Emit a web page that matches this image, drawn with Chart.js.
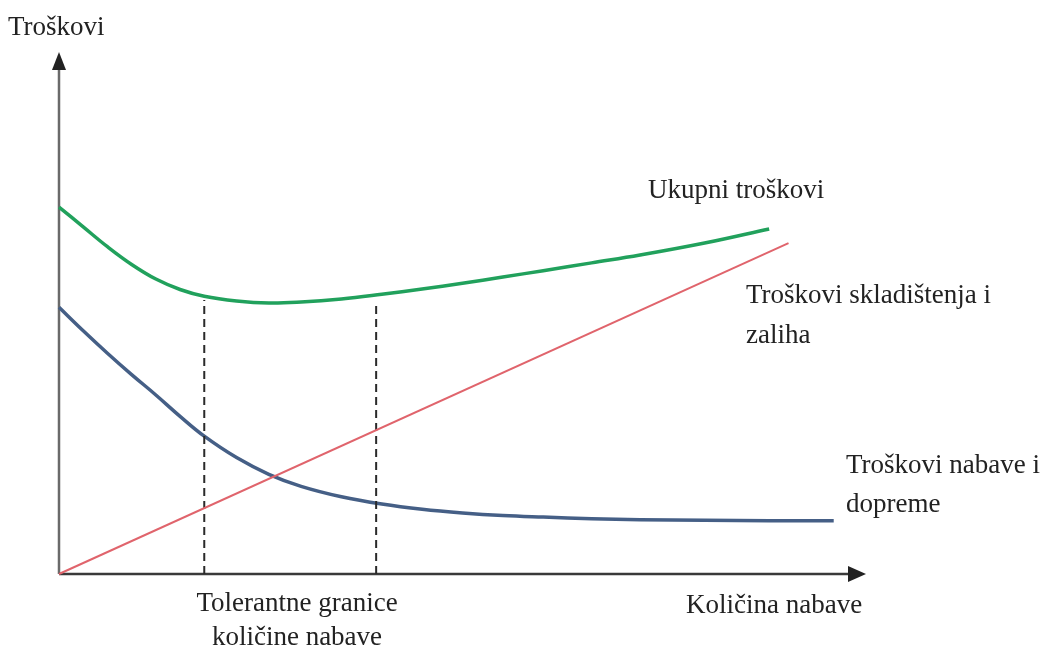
<!DOCTYPE html>
<html>
<head>
<meta charset="utf-8">
<script src="https://cdn.jsdelivr.net/npm/chart.js@4.4.0/dist/chart.umd.min.js"></script>
<style>
  body { margin: 0; background: #fff; }
  #wrap { width: 1042px; height: 657px; position: relative; }
</style>
</head>
<body>
<div id="wrap"><canvas id="myChart"></canvas></div>
<script>
// quantity axis (0..100) and cost axis (0..100)
var totalX = [0, 3, 6, 9, 12, 15, 18, 22, 26, 30, 35, 40, 45, 50, 55, 60, 66, 72, 80, 88];
var totalY = [70.3, 66.5, 62.7, 59.3, 56.5, 54.5, 53.2, 52.3, 51.9, 52.1, 52.7, 53.6, 54.6, 55.7, 56.9, 58.1, 59.6, 61.1, 63.4, 66.1];

var orderX = [0, 3, 6, 9, 12, 15, 18, 22, 26, 30, 35, 40, 45, 50, 55, 60, 66, 72, 80, 88, 96];
var orderY = [51.1, 46.6, 42.3, 38.2, 34.3, 30.2, 26.4, 22.3, 19.1, 16.8, 14.8, 13.4, 12.4, 11.7, 11.2, 10.9, 10.6, 10.4, 10.3, 10.2, 10.2];

var storageX = [0, 90.4];
var storageY = [0, 63.4];

// tolerance limits (dashed lines)
var limitX = [18, 39.3];
var limitTop = [52.5, 51.5];

function pts(xs, ys) {
  return xs.map(function (x, i) { return { x: x, y: ys[i] }; });
}

var labelFont = "27px 'Liberation Serif', 'Times New Roman', serif";

var axesPlugin = {
  id: "axes",
  beforeDatasetsDraw: function (chart) {
    var c = chart.ctx;
    var xs = chart.scales.x, ys = chart.scales.y;
    var x0 = xs.getPixelForValue(0), y0 = ys.getPixelForValue(0);
    var xEnd = xs.getPixelForValue(100), yEnd = ys.getPixelForValue(100);
    c.save();
    // y axis
    c.strokeStyle = "#6a6a6a";
    c.lineWidth = 2.5;
    c.beginPath(); c.moveTo(x0, y0); c.lineTo(x0, yEnd + 14); c.stroke();
    c.fillStyle = "#222";
    c.beginPath(); c.moveTo(x0, yEnd); c.lineTo(x0 - 7, yEnd + 18); c.lineTo(x0 + 7, yEnd + 18); c.closePath(); c.fill();
    // x axis
    c.strokeStyle = "#3a3a3a";
    c.beginPath(); c.moveTo(x0, y0); c.lineTo(xEnd - 14, y0); c.stroke();
    c.beginPath(); c.moveTo(xEnd, y0); c.lineTo(xEnd - 18, y0 - 8); c.lineTo(xEnd - 18, y0 + 8); c.closePath(); c.fill();
    c.restore();
  },
  afterDraw: function (chart) {
    var c = chart.ctx;
    c.save();
    c.font = labelFont;
    c.fillStyle = "#222";
    c.textBaseline = "middle";
    c.textAlign = "left";
    c.fillText("Troškovi", 8, 28);
    c.fillText("Ukupni troškovi", 648, 191);
    c.fillText("Troškovi skladištenja i", 746, 296);
    c.fillText("zaliha", 746, 336);
    c.fillText("Troškovi nabave i", 846, 466);
    c.fillText("dopreme", 846, 505);
    c.fillText("Količina nabave", 686, 606);
    c.textAlign = "center";
    c.fillText("Tolerantne granice", 297, 604);
    c.fillText("količine nabave", 297, 638);
    c.restore();
  }
};

var ctx = document.getElementById("myChart").getContext("2d");
var myChart = new Chart(ctx, {
  type: "line",
  data: {
    datasets: [
      {
        label: "Troškovi skladištenja i zaliha",
        data: pts(storageX, storageY),
        borderColor: "#e0646c",
        borderWidth: 2,
        pointRadius: 0,
        fill: false
      },
      {
        label: "Tolerantne granice 1",
        data: pts([limitX[0], limitX[0]], [0, limitTop[0]]),
        borderColor: "#2a2a2a",
        borderWidth: 2,
        borderDash: [8, 5],
        pointRadius: 0,
        fill: false
      },
      {
        label: "Tolerantne granice 2",
        data: pts([limitX[1], limitX[1]], [0, limitTop[1]]),
        borderColor: "#2a2a2a",
        borderWidth: 2,
        borderDash: [8, 5],
        pointRadius: 0,
        fill: false
      },
      {
        label: "Troškovi nabave i dopreme",
        data: pts(orderX, orderY),
        borderColor: "#455f86",
        borderWidth: 3.5,
        pointRadius: 0,
        tension: 0.4,
        fill: false
      },
      {
        label: "Ukupni troškovi",
        data: pts(totalX, totalY),
        borderColor: "#21a15c",
        borderWidth: 3.5,
        pointRadius: 0,
        tension: 0.4,
        fill: false
      }
    ]
  },
  options: {
    responsive: true,
    maintainAspectRatio: false,
    animation: false,
    clip: false,
    layout: { padding: { left: 59, top: 52, right: 176, bottom: 83 } },
    plugins: { legend: { display: false }, tooltip: { enabled: false } },
    scales: {
      x: { type: "linear", min: 0, max: 100, display: false },
      y: { type: "linear", min: 0, max: 100, display: false }
    }
  },
  plugins: [axesPlugin]
});
</script>
</body>
</html>
